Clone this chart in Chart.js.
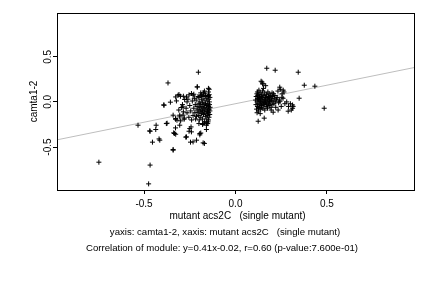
<!DOCTYPE html>
<html>
<head>
<meta charset="utf-8">
<script src="https://cdn.jsdelivr.net/npm/chart.js@4/dist/chart.umd.min.js"></script>
<style>
  html, body { margin: 0; padding: 0; background: #fff; }
  #wrap { width: 432px; height: 288px; position: relative; }
</style>
</head>
<body>
<div id="wrap"><canvas id="grafico"></canvas></div>
<script>
// Datos
const xLabel = 'mutant acs2C   (single mutant)';
const yLabel = 'camta1-2';
const nota1 = 'yaxis: camta1-2, xaxis: mutant acs2C   (single mutant)';
const nota2 = 'Correlation of module: y=0.41x-0.02, r=0.60 (p-value:7.600e-01)';

const xTicks = [-0.5, 0.0, 0.5];
const yTicks = [-0.5, 0.0, 0.5];
const xRange = [-0.976, 0.976];
const yRange = [-0.976, 0.985];

// recta de regresión (del texto)
const pendiente = 0.41;
const intercepto = -0.02;

// grupo izquierdo: puntos sueltos
const xIzqSueltos = [-0.747, -0.475, -0.467, -0.533, -0.467, -0.454, -0.434, -0.418, -0.391, -0.369,
  -0.374, -0.356, -0.341, -0.334, -0.328, -0.328, -0.327, -0.314, -0.305, -0.296,
  -0.285, -0.281, -0.265, -0.272, -0.254, -0.246, -0.243, -0.232, -0.203, -0.208,
  -0.195, -0.19, -0.17, -0.159, -0.148, -0.148, -0.148, -0.309, -0.301, -0.392,
  -0.323, -0.287, -0.278, -0.268, -0.254, -0.241, -0.228, -0.21, -0.144, -0.144,
  -0.341, -0.327, -0.32, -0.305, -0.287, -0.469, -0.436, -0.378, -0.414, -0.338,
  -0.327, -0.305, -0.268, -0.25, -0.241, -0.213, -0.195, -0.177, -0.159, -0.15,
  -0.232, -0.177, -0.341];
const yIzqSueltos = [-0.668, -0.908, -0.70, -0.258, -0.325, -0.446, -0.258, -0.41, -0.037, 0.21,
  -0.236, -0.003, -0.535, -0.35, -0.288, -0.192, 0.055, 0.074, -0.147, -0.062,
  0.063, -0.192, 0.0, -0.39, -0.325, -0.446, -0.277, 0.074, 0.329, 0.166,
  -0.365, -0.345, -0.46, -0.306, 0.15, 0.11, 0.07, 0.082, 0.063, -0.033,
  0.011, -0.055, 0.027, 0.055, 0.078, 0.093, 0.085, 0.166, 0.14, 0.08,
  -0.147, -0.184, -0.203, -0.166, -0.147, -0.321, -0.306, -0.24, -0.424, -0.343,
  -0.358, -0.258, -0.388, -0.295, -0.332, -0.424, -0.35, -0.24, -0.258, -0.221,
  -0.443, -0.454, -0.527];

// grupo izquierdo: nube densa
const xIzqNube = [-0.215, -0.21, -0.205, -0.2, -0.2, -0.2, -0.2, -0.198, -0.195, -0.195,
  -0.193, -0.19, -0.19, -0.19, -0.188, -0.185, -0.185, -0.183, -0.18, -0.18,
  -0.18, -0.178, -0.176, -0.175, -0.173, -0.172, -0.17, -0.17, -0.168, -0.166,
  -0.165, -0.164, -0.162, -0.16, -0.16, -0.158, -0.157, -0.155, -0.155, -0.153,
  -0.152, -0.15, -0.15, -0.15, -0.148, -0.147, -0.146, -0.145, -0.144, -0.143,
  -0.142, -0.141, -0.14, -0.14, -0.139, -0.205, -0.21, -0.213, -0.22, -0.225,
  -0.222, -0.218, -0.228, -0.232, -0.236, -0.24, -0.245, -0.25, -0.255, -0.26,
  -0.265, -0.27, -0.28, -0.285, -0.29, -0.3, -0.31, -0.19, -0.17, -0.16,
  -0.18, -0.2, -0.148, -0.152, -0.165, -0.175, -0.185];
const yIzqNube = [0.02, -0.05, -0.12, 0.05, -0.02, -0.08, -0.15, -0.2, 0.0, -0.06,
  -0.11, 0.07, -0.03, -0.17, -0.09, 0.03, -0.13, -0.05, -0.01, -0.1,
  -0.19, 0.06, -0.07, -0.14, -0.03, 0.02, -0.11, -0.22, -0.06, 0.09,
  -0.16, -0.02, -0.09, 0.04, -0.13, -0.04, -0.19, 0.01, -0.07, -0.11,
  -0.15, 0.06, -0.02, -0.09, -0.05, -0.12, 0.03, -0.17, -0.08, 0.0,
  -0.03, -0.14, 0.05, -0.1, -0.06, 0.06, -0.09, -0.16, -0.03, 0.04,
  -0.12, -0.19, -0.07, -0.15, 0.01, -0.2, -0.1, -0.04, -0.17, 0.03,
  -0.12, -0.07, -0.18, -0.11, -0.03, -0.21, -0.09, 0.1, 0.12, -0.23,
  -0.25, -0.24, -0.2, -0.24, 0.07, 0.1, 0.08];

// grupo derecho: nube densa
const xDerNube = [0.11, 0.112, 0.113, 0.115, 0.117, 0.118, 0.12, 0.12, 0.122, 0.123,
  0.125, 0.126, 0.128, 0.13, 0.13, 0.132, 0.134, 0.135, 0.137, 0.138,
  0.14, 0.14, 0.142, 0.143, 0.145, 0.146, 0.148, 0.15, 0.15, 0.152,
  0.153, 0.155, 0.156, 0.158, 0.16, 0.16, 0.162, 0.164, 0.165, 0.166,
  0.168, 0.17, 0.172, 0.174, 0.175, 0.177, 0.178, 0.18, 0.182, 0.184,
  0.185, 0.187, 0.19, 0.192, 0.194, 0.196, 0.198, 0.2, 0.203, 0.205,
  0.208, 0.21, 0.212, 0.215, 0.218, 0.22, 0.224, 0.228, 0.232, 0.236,
  0.24, 0.245, 0.25, 0.255, 0.26, 0.265, 0.27, 0.28, 0.29, 0.3,
  0.305, 0.315, 0.118, 0.135, 0.15, 0.145, 0.128, 0.125, 0.133, 0.141,
  0.157, 0.163, 0.171, 0.179, 0.186, 0.12, 0.195, 0.2];
const yDerNube = [0.02, -0.03, 0.06, -0.08, 0.09, 0.0, -0.05, 0.04, 0.07, -0.02,
  -0.1, 0.03, 0.08, -0.06, 0.01, 0.05, -0.03, 0.1, 0.0, -0.08,
  0.06, 0.03, -0.04, 0.08, -0.01, 0.02, 0.12, -0.07, 0.05, 0.0,
  0.15, -0.03, 0.07, 0.03, -0.09, 0.1, -0.01, 0.05, 0.18, 0.02,
  -0.05, 0.08, 0.0, 0.04, -0.07, 0.11, 0.02, -0.02, 0.06, 0.09,
  -0.04, 0.03, 0.0, 0.07, -0.06, 0.04, 0.02, -0.03, 0.06, 0.01,
  0.09, -0.02, 0.04, 0.07, 0.0, -0.06, 0.03, 0.05, 0.12, -0.01,
  0.02, 0.14, -0.05, 0.09, 0.04, 0.11, -0.02, 0.0, -0.05, -0.02,
  -0.09, -0.05, -0.12, -0.13, 0.2, 0.22, 0.13, -0.07, 0.04, -0.06,
  -0.02, 0.0, -0.03, 0.05, 0.01, 0.11, -0.09, 0.1];

// grupo derecho: puntos sueltos
const xDerSueltos = [0.171, 0.217, 0.343, 0.376, 0.434, 0.348, 0.485, 0.124, 0.157, 0.206,
  0.233, 0.288, 0.312, 0.312, 0.243, 0.254, 0.261, 0.242, 0.14, 0.148];
const yDerSueltos = [0.373, 0.351, 0.329, 0.185, 0.174, 0.041, -0.07, -0.214, -0.18, -0.114,
  -0.09, -0.103, -0.034, -0.07, 0.007, 0.051, 0.13, 0.163, 0.229, 0.2];

const xs = [...xIzqSueltos, ...xIzqNube, ...xDerNube, ...xDerSueltos];
const ys = [...yIzqSueltos, ...yIzqNube, ...yDerNube, ...yDerSueltos];
const puntos = xs.map((x, i) => ({ x: x, y: ys[i] }));
const recta = xRange.map(x => ({ x: x, y: pendiente * x + intercepto }));

const fuente = '"Liberation Sans", Arial, sans-serif';

// textos estilo R: caja, etiquetas de ejes y notas
const textosR = {
  id: 'textosR',
  afterDraw(chart) {
    const ctx = chart.ctx;
    const a = chart.chartArea;
    const sx = chart.scales.x, sy = chart.scales.y;
    ctx.save();
    ctx.strokeStyle = '#000';
    ctx.lineWidth = 1;
    ctx.strokeRect(Math.round(a.left) + 0.5, Math.round(a.top) + 0.5,
      Math.round(a.right - a.left), Math.round(a.bottom - a.top));
    ctx.fillStyle = '#000';
    ctx.font = '10px ' + fuente;
    ctx.textAlign = 'center';
    ctx.textBaseline = 'middle';
    xTicks.forEach(v => ctx.fillText(v.toFixed(1), sx.getPixelForValue(v), a.bottom + 14));
    yTicks.forEach(v => {
      ctx.save();
      ctx.translate(a.left - 9, sy.getPixelForValue(v));
      ctx.rotate(-Math.PI / 2);
      ctx.fillText(v.toFixed(1), 0, 0);
      ctx.restore();
    });
    const cx = (a.left + a.right) / 2;
    ctx.fillText(xLabel, cx + 2, a.bottom + 26);
    ctx.save();
    ctx.translate(a.left - 23, (a.top + a.bottom) / 2);
    ctx.rotate(-Math.PI / 2);
    ctx.fillText(yLabel, 0, 0);
    ctx.restore();
    ctx.font = '9.6px ' + fuente;
    ctx.fillText(nota1, 225, a.bottom + 42);
    ctx.fillText(nota2, 222, a.bottom + 58);
    ctx.restore();
  }
};

const ctx = document.getElementById('grafico').getContext('2d');

new Chart(ctx, {
  type: 'scatter',
  data: {
    datasets: [{
      label: 'módulo',
      data: puntos,
      pointStyle: 'cross',
      radius: 2.5,
      borderColor: '#000',
      borderWidth: 1
    }, {
      type: 'line',
      label: 'ajuste',
      data: recta,
      borderColor: '#bebebe',
      borderWidth: 1,
      pointRadius: 0,
      fill: false
    }]
  },
  options: {
    responsive: true,
    maintainAspectRatio: false,
    animation: false,
    events: [],
    layout: { padding: { top: 13, right: 18, left: 0, bottom: 0 } },
    plugins: { legend: { display: false }, tooltip: { enabled: false } },
    scales: {
      x: {
        type: 'linear',
        min: xRange[0],
        max: xRange[1],
        afterBuildTicks: s => { s.ticks = xTicks.map(v => ({ value: v })); },
        afterFit: s => { s.height = 98; },
        ticks: { display: false },
        border: { display: false },
        grid: { drawOnChartArea: false, color: '#000', tickLength: 4 }
      },
      y: {
        type: 'linear',
        min: yRange[0],
        max: yRange[1],
        afterBuildTicks: s => { s.ticks = yTicks.map(v => ({ value: v })); },
        afterFit: s => { s.width = 57; },
        ticks: { display: false },
        border: { display: false },
        grid: { drawOnChartArea: false, color: '#000', tickLength: 4 }
      }
    }
  },
  plugins: [textosR]
});
</script>
</body>
</html>
